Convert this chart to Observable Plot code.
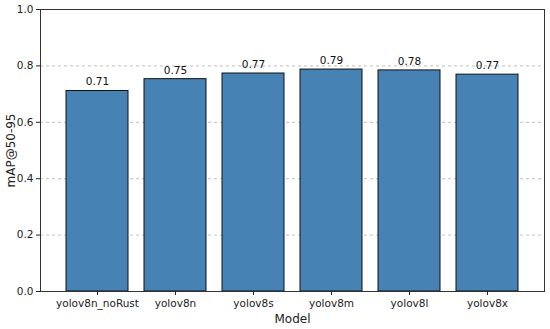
<!DOCTYPE html>
<html>
<head>
<meta charset="utf-8">
<script src="https://cdn.jsdelivr.net/npm/d3@7"></script>
<script src="https://cdn.jsdelivr.net/npm/@observablehq/plot@0.6"></script>
<style>
  html, body { margin: 0; padding: 0; background: #fff; }
  svg { display: block; }
</style>
</head>
<body>
<div id="chart"></div>
<script>
const models = ["yolov8n_noRust", "yolov8n", "yolov8s", "yolov8m", "yolov8l", "yolov8x"];
const mapValues = [0.711, 0.753, 0.773, 0.787, 0.784, 0.769];
const yTicks = [0.0, 0.2, 0.4, 0.6, 0.8, 1.0];
const gridTicks = [0.2, 0.4, 0.6, 0.8];

const data = models.map((m, i) => ({model: m, value: mapValues[i]}));

const chart = Plot.plot({
  width: 550,
  height: 329,
  marginLeft: 40,
  marginRight: 6,
  marginTop: 9,
  marginBottom: 38,
  style: {fontFamily: "DejaVu Sans", fontSize: "10px", color: "#222", background: "#fff"},
  x: {domain: models, paddingInner: 0.2, paddingOuter: 0.3, align: 0.5},
  y: {domain: [0, 1]},
  marks: [
    Plot.gridY(gridTicks, {stroke: "#b0b0b0", strokeOpacity: 0.8, strokeDasharray: "3,3"}),
    Plot.barY(data, {x: "model", y: "value", fill: "#4682b4", stroke: "#111", strokeWidth: 1}),
    Plot.text(data, {x: "model", y: "value", text: d => d.value.toFixed(2), dy: -9, fill: "#111", fontSize: 10.5}),
    Plot.frame({stroke: "#333", strokeWidth: 1}),
    Plot.axisY(yTicks, {tickFormat: d => d.toFixed(1), tickSize: 4, tickPadding: 3, label: "mAP@50-95", labelAnchor: "center", labelArrow: "none", labelOffset: 34, fontSize: 10.5}),
    Plot.axisX({tickSize: 4, tickPadding: 4, label: "Model", labelAnchor: "center", labelArrow: "none", labelOffset: 31, fontSize: 10.5})
  ]
});

chart.querySelectorAll("g[aria-label='y-axis label'] text, g[aria-label='x-axis label'] text").forEach(t => t.setAttribute("font-size", "12"));
document.getElementById("chart").appendChild(chart);
</script>
</body>
</html>
